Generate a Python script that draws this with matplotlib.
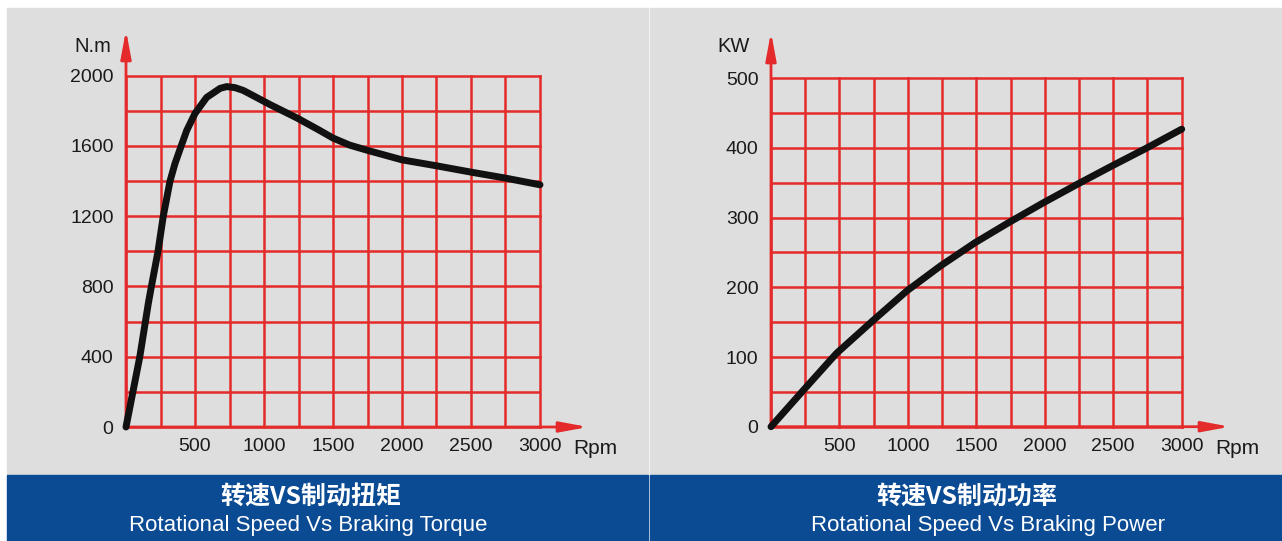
import matplotlib
matplotlib.use("Agg")
import matplotlib.pyplot as plt
from matplotlib.patches import Rectangle

W, H = 1282, 541

# ---- data ----
torque_rpm = [0, 100, 162, 184, 232, 270, 319, 355, 399, 440, 500, 584, 682, 730, 790, 850,
              925, 1045, 1240, 1400, 1500, 1620, 1750, 2000, 2250, 2500, 2750, 3000]
torque_nm = [0, 400, 705, 800, 1000, 1200, 1400, 1500, 1598, 1688, 1785, 1876, 1928, 1938, 1932,
             1916, 1885, 1835, 1759, 1690, 1645, 1605, 1575, 1521, 1487, 1451, 1417, 1379]

power_rpm = [0, 235, 477, 743, 993, 1240, 1490, 1737, 1986, 2238, 2488, 2735, 3000]
power_kw = [0, 52, 105, 152, 195, 231, 264, 293, 321, 348, 374, 399, 427]

x_tick_labels = [500, 1000, 1500, 2000, 2500, 3000]
torque_ticks = [0, 400, 800, 1200, 1600, 2000]
power_ticks = [0, 100, 200, 300, 400, 500]

titles_cn = ["转速VS制动扭矩", "转速VS制动功率"]
titles_en = ["Rotational Speed Vs Braking Torque", "Rotational Speed Vs Braking Power"]
units = ["N.m", "KW"]

GREY = "#dedede"
BLUE = "#0b4b94"
RED = "#e42a2a"
INK = "#1a1a1a"
FONT = ["Liberation Sans", "DejaVu Sans"]
CJK = ["Noto Sans CJK SC", "DejaVu Sans"]

fig = plt.figure(figsize=(W / 100, H / 100), dpi=100, facecolor="white")


def fx(x):
    return x / W


def fy(y):
    return 1 - y / H


def rect(x0, y0, x1, y1, color):
    fig.patches.append(Rectangle((fx(x0), fy(y1)), fx(x1) - fx(x0), fy(y0) - fy(y1),
                                 transform=fig.transFigure, color=color, zorder=-5))


# panels
rect(7, 8, 648, 475, GREY)
rect(650, 8, 1282, 475, GREY)
rect(7, 475, 648, 541, BLUE)
rect(650, 475, 1282, 541, BLUE)


def make_axes(px0, py0, px1, py1, xs, ys, ymax, ystep_minor, yticks, unit, unit_xy, tip_y, tip_x):
    ax = fig.add_axes([fx(px0), fy(py1), fx(px1) - fx(px0), fy(py0) - fy(py1)])
    ax.set_facecolor("none")
    ax.set_xlim(0, 3000)
    ax.set_ylim(0, ymax)
    for s in ax.spines.values():
        s.set_visible(False)
    ax.set_xticks(x_tick_labels)
    ax.set_xticks(list(range(0, 3001, 250)), minor=True)
    ax.set_yticks(yticks)
    ax.set_yticks(list(range(0, ymax + 1, ystep_minor)), minor=True)
    ax.grid(True, which="both", color=RED, lw=1.8)
    for ln in ax.get_xgridlines() + ax.get_ygridlines():
        ln.set_clip_on(False)
    ax.tick_params(which="both", length=0)
    ax.tick_params(axis="x", pad=8, labelsize=14, labelcolor=INK)
    ax.tick_params(axis="y", pad=9, labelsize=14, labelcolor=INK)
    for lab in ax.get_xticklabels() + ax.get_yticklabels():
        lab.set_family(FONT)
    ax.set_axisbelow(True)

    # axis arrows
    h = py1 - py0
    w = px1 - px0
    style = "-|>,head_length=1.4,head_width=0.26"
    ax.annotate("", xy=(0, (py1 - tip_y) / h), xytext=(0, 0), xycoords="axes fraction",
                arrowprops=dict(arrowstyle=style, color=RED, lw=2, mutation_scale=12,
                                shrinkA=0, shrinkB=0),
                annotation_clip=False)
    ax.annotate("", xy=((tip_x - px0) / w, 0), xytext=(0, 0), xycoords="axes fraction",
                arrowprops=dict(arrowstyle=style, color=RED, lw=2, mutation_scale=12,
                                shrinkA=0, shrinkB=0),
                annotation_clip=False)

    ax.plot(xs, ys, color="#111111", lw=5, solid_capstyle="round",
            solid_joinstyle="round", clip_on=False, zorder=5)

    fig.text(fx(unit_xy[0]), fy(unit_xy[1]), unit, ha="center", va="center",
             fontsize=14.5, color=INK, family=FONT)
    fig.text(fx(tip_x + 7), fy(448), "Rpm", ha="center", va="center",
             fontsize=15, color=INK, family=FONT)
    return ax


make_axes(126, 75.7, 540, 427, torque_rpm, torque_nm, 2000, 200, torque_ticks,
          units[0], (93, 46), 30, 588)
make_axes(771, 78.3, 1181.7, 426.7, power_rpm, power_kw, 500, 50, power_ticks,
          units[1], (734, 46), 32, 1230)

# banner titles
for cx, cn in [(311, titles_cn[0]), (967, titles_cn[1])]:
    fig.text(fx(cx), fy(497), cn, ha="center", va="center", fontsize=18,
             fontweight="bold", color="white", family=CJK)
for cx, en in [(308, titles_en[0]), (988, titles_en[1])]:
    fig.text(fx(cx), fy(525), en, ha="center", va="center", fontsize=16,
             color="white", family=FONT)

fig.savefig("out.png", dpi=100, facecolor="white")
